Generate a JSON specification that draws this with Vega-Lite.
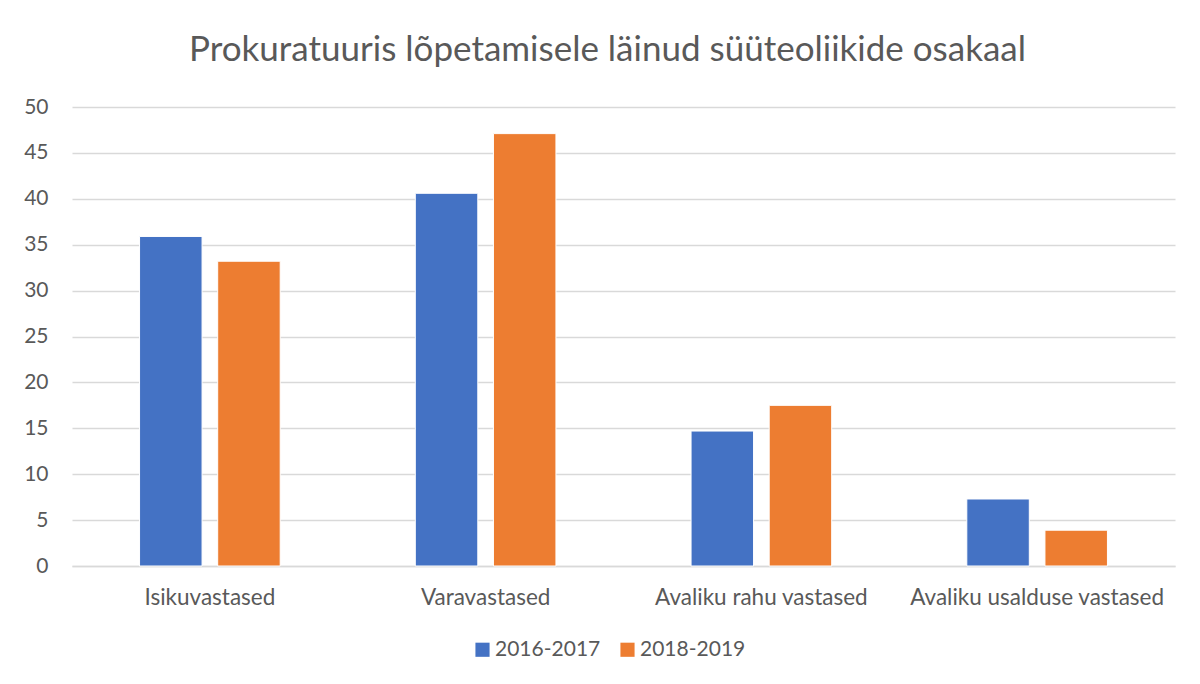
{
  "$schema": "https://vega.github.io/schema/vega-lite/v6.json",
  "width": 1103,
  "height": 459,
  "autosize": {"type": "none"},
  "padding": {"left": 72, "top": 107, "right": 25, "bottom": 118},
  "background": "white",
  "title": {
    "text": "Prokuratuuris lõpetamisele läinud süüteoliikide osakaal",
    "font": "Lato",
    "fontSize": 35,
    "fontWeight": "normal",
    "color": "#595959",
    "anchor": "middle",
    "dx": -16,
    "offset": 28
  },
  "data": {
    "values": [
      {"liik": "Isikuvastased", "periood": "2016-2017", "osakaal": 35.9},
      {"liik": "Isikuvastased", "periood": "2018-2019", "osakaal": 33.2},
      {"liik": "Varavastased", "periood": "2016-2017", "osakaal": 40.6},
      {"liik": "Varavastased", "periood": "2018-2019", "osakaal": 47.1},
      {"liik": "Avaliku rahu vastased", "periood": "2016-2017", "osakaal": 14.7},
      {"liik": "Avaliku rahu vastased", "periood": "2018-2019", "osakaal": 17.5},
      {"liik": "Avaliku usalduse vastased", "periood": "2016-2017", "osakaal": 7.3},
      {"liik": "Avaliku usalduse vastased", "periood": "2018-2019", "osakaal": 3.9}
    ]
  },
  "mark": {"type": "bar", "stroke": "white", "strokeWidth": 1},
  "encoding": {
    "x": {
      "field": "liik",
      "type": "nominal",
      "sort": null,
      "scale": {"paddingInner": 0.49, "paddingOuter": 0.245},
      "axis": {
        "title": null,
        "labelAngle": 0,
        "labelFont": "Lato",
        "labelFontSize": 22.5,
        "labelColor": "#595959",
        "labelPadding": 20,
        "labelLimit": 0,
        "ticks": false,
        "domain": true,
        "domainColor": "#d9d9d9",
        "domainWidth": 1.5
      }
    },
    "xOffset": {
      "field": "periood",
      "type": "nominal",
      "scale": {"paddingInner": 0.2}
    },
    "y": {
      "field": "osakaal",
      "type": "quantitative",
      "scale": {"domain": [0, 50]},
      "axis": {
        "title": null,
        "values": [0, 5, 10, 15, 20, 25, 30, 35, 40, 45, 50],
        "labelFont": "Lato",
        "labelFontSize": 21,
        "labelColor": "#595959",
        "labelPadding": 24,
        "ticks": false,
        "domain": false,
        "gridColor": "#d9d9d9",
        "gridWidth": 1.5
      }
    },
    "color": {
      "field": "periood",
      "type": "nominal",
      "scale": {"domain": ["2016-2017", "2018-2019"], "range": ["#4472c4", "#ed7d31"]},
      "legend": {
        "title": null,
        "orient": "none",
        "legendX": 400,
        "legendY": 532,
        "direction": "horizontal",
        "symbolType": "square",
        "symbolSize": 200,
        "symbolStrokeWidth": 0,
        "labelFont": "Lato",
        "labelFontSize": 21,
        "labelColor": "#595959",
        "labelOffset": 2,
        "columnPadding": 16
      }
    }
  },
  "config": {
    "view": {"stroke": null}
  }
}
